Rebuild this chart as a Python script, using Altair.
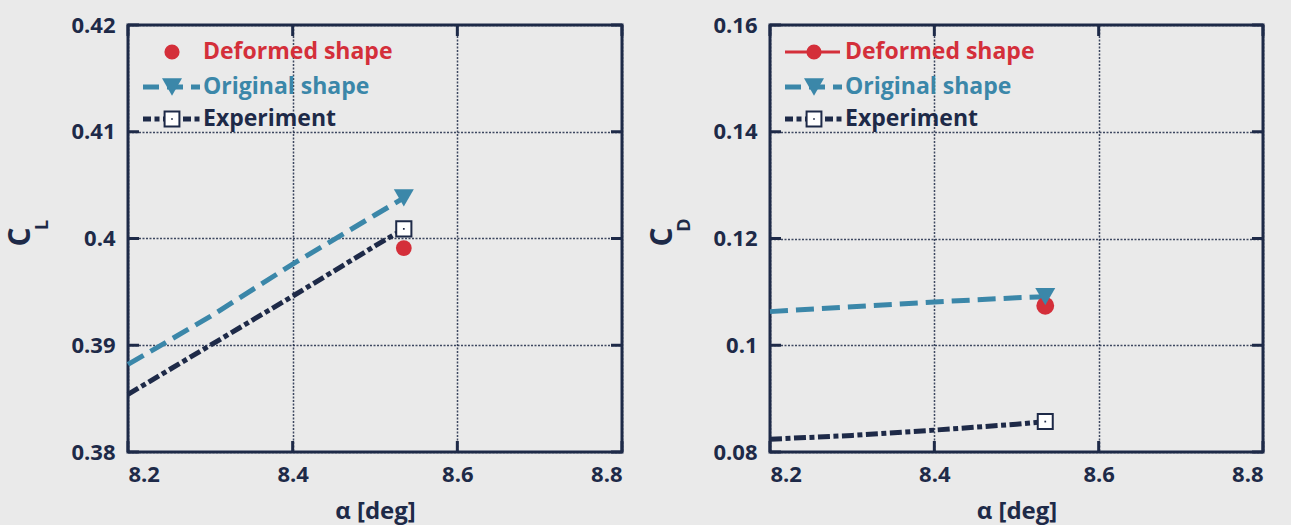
import altair as alt
import pandas as pd

NAVY = "#1e2a48"
RED = "#d42f3a"
BLUE = "#3b87a9"
BG = "#eaeaea"
FONT = "Open Sans"

series_names = ["Deformed shape", "Original shape", "Experiment"]

# ---- Lift coefficient panel ----
alpha_orig = [8.2, 8.3, 8.4, 8.5, 8.535]
cl_orig = [0.3882, 0.3927, 0.3976, 0.4022, 0.4038]
alpha_exp = [8.2, 8.3, 8.4, 8.5, 8.535]
cl_exp = [0.3854, 0.3900, 0.3946, 0.3993, 0.4009]
alpha_def = [8.535]
cl_def = [0.3991]

# ---- Drag coefficient panel ----
cd_orig = [0.1063, 0.1072, 0.1081, 0.1089, 0.1091]
cd_exp = [0.0824, 0.0831, 0.0841, 0.0852, 0.0857]
cd_def = [0.1074]

x_ticks = [8.2, 8.4, 8.6, 8.8]
cl_ticks = [0.38, 0.39, 0.40, 0.41, 0.42]
cd_ticks = [0.08, 0.10, 0.12, 0.14, 0.16]

H = 427
TICK = 11


def panel(W, xs_o, ys_o, xs_e, ys_e, xs_d, ys_d, yticks, sub, legend_line, sz):
    xscale = alt.Scale(domain=[x_ticks[0], x_ticks[-1]], nice=False, zero=False)
    yscale = alt.Scale(domain=[yticks[0], yticks[-1]], nice=False, zero=False)
    xaxis = alt.Axis(values=x_ticks, format="~g", title="α [deg]", grid=True,
                     ticks=False, domain=False, labelPadding=12, titlePadding=14)
    yaxis = alt.Axis(values=yticks, format="~g", title=None, grid=True,
                     ticks=False, domain=False, labelPadding=13)

    def X():
        return alt.X("a:Q", scale=xscale, axis=xaxis)

    def Y():
        return alt.Y("v:Q", scale=yscale, axis=yaxis)

    df_o = pd.DataFrame({"a": xs_o, "v": ys_o})
    df_e = pd.DataFrame({"a": xs_e, "v": ys_e})
    df_d = pd.DataFrame({"a": xs_d, "v": ys_d})
    df_xt = pd.DataFrame({"a": x_ticks})
    df_yt = pd.DataFrame({"v": yticks})

    layers = []
    # inner ticks
    layers.append(alt.Chart(df_xt).mark_rule(color=NAVY, strokeWidth=3).encode(
        x=X(), y=alt.value(H), y2=alt.value(H - TICK)))
    layers.append(alt.Chart(df_xt).mark_rule(color=NAVY, strokeWidth=3).encode(
        x=X(), y=alt.value(0), y2=alt.value(TICK)))
    layers.append(alt.Chart(df_yt).mark_rule(color=NAVY, strokeWidth=3).encode(
        y=Y(), x=alt.value(0), x2=alt.value(TICK)))
    layers.append(alt.Chart(df_yt).mark_rule(color=NAVY, strokeWidth=3).encode(
        y=Y(), x=alt.value(W), x2=alt.value(W - TICK)))

    # series
    layers.append(alt.Chart(df_o).mark_line(color=BLUE, strokeWidth=5, strokeDash=[18, 8],
                                            strokeCap="butt").encode(x=X(), y=Y()))
    layers.append(alt.Chart(df_e).mark_line(color=NAVY, strokeWidth=5, strokeDash=[12, 3.5, 5, 3.5],
                                            strokeCap="butt").encode(x=X(), y=Y()))
    layers.append(alt.Chart(df_d).mark_point(shape="circle", filled=True, color=RED, opacity=1,
                                             size=sz[0]).encode(x=X(), y=Y()))
    layers.append(alt.Chart(df_o.tail(1)).mark_point(shape="triangle-down", filled=True, color=BLUE,
                                                     opacity=1, size=400).encode(x=X(), y=Y()))
    layers.append(alt.Chart(df_e.tail(1)).mark_point(shape="square", filled=True, fill="white",
                                                     stroke=NAVY, strokeWidth=2, opacity=1,
                                                     size=sz[1]).encode(x=X(), y=Y()))
    layers.append(alt.Chart(df_e.tail(1)).mark_point(shape="square", filled=True, color=NAVY,
                                                     opacity=1, size=3).encode(x=X(), y=Y()))

    # legend
    ly = [27, 62, 94]
    colors = [RED, BLUE, NAVY]
    if legend_line:
        layers.append(alt.Chart(df_d).mark_rule(color=RED, strokeWidth=3).encode(
            x=alt.value(15), x2=alt.value(70), y=alt.value(ly[0])))
    layers.append(alt.Chart(df_d).mark_rule(color=BLUE, strokeWidth=5, strokeDash=[16, 8],
                                            strokeCap="butt").encode(
        x=alt.value(15), x2=alt.value(72), y=alt.value(ly[1])))
    layers.append(alt.Chart(df_d).mark_rule(color=NAVY, strokeWidth=5, strokeDash=[8, 3.5, 5, 3.5],
                                            strokeCap="butt").encode(
        x=alt.value(15), x2=alt.value(72), y=alt.value(ly[2])))
    layers.append(alt.Chart(df_d).mark_point(shape="circle", filled=True, color=RED, opacity=1,
                                             size=230).encode(x=alt.value(44), y=alt.value(ly[0])))
    layers.append(alt.Chart(df_d).mark_point(shape="triangle-down", filled=True, color=BLUE, opacity=1,
                                             size=400).encode(x=alt.value(44), y=alt.value(ly[1])))
    layers.append(alt.Chart(df_d).mark_point(shape="square", filled=True, fill="white", stroke=NAVY,
                                             strokeWidth=2, opacity=1, size=220).encode(
        x=alt.value(44), y=alt.value(ly[2])))
    layers.append(alt.Chart(df_d).mark_point(shape="square", filled=True, color=NAVY, opacity=1,
                                             size=3).encode(x=alt.value(44), y=alt.value(ly[2])))
    for i, name in enumerate(series_names):
        layers.append(alt.Chart(df_d).mark_text(text=name, align="left", baseline="middle",
                                                font=FONT, fontSize=23, fontWeight="bold",
                                                color=colors[i]).encode(
            x=alt.value(75), y=alt.value(ly[i])))

    # y title with subscript
    layers.append(alt.Chart(df_d).mark_text(text="C", angle=270, align="center", baseline="middle",
                                            font=FONT, fontSize=30, fontWeight="bold",
                                            color=NAVY).encode(x=alt.value(-107), y=alt.value(212)))
    layers.append(alt.Chart(df_d).mark_text(text=sub, angle=270, align="center", baseline="middle",
                                            font=FONT, fontSize=18, fontWeight="bold",
                                            color=NAVY).encode(x=alt.value(-85), y=alt.value(200)))

    return alt.layer(*layers).properties(width=W, height=H)


left = panel(494, alpha_orig, cl_orig, alpha_exp, cl_exp, alpha_def, cl_def, cl_ticks, "L", False, [250, 230])
right = panel(493, alpha_orig, cd_orig, alpha_exp, cd_exp, alpha_def, cd_def, cd_ticks, "D", True, [320, 225])

chart = alt.hconcat(left, right, spacing=148, bounds="flush").properties(
    padding={"left": 4, "top": 12, "right": 25, "bottom": 0},
    background=BG,
).configure_view(
    stroke=NAVY, strokeWidth=3
).configure_axis(
    labelFont=FONT, labelFontSize=22, labelFontWeight="bold", labelColor=NAVY,
    titleFont=FONT, titleFontSize=24, titleFontWeight="bold", titleColor=NAVY,
    gridColor=NAVY, gridDash=[2, 1.5], gridWidth=1.5, gridOpacity=0.85,
)

chart.save("out.html", embed_options={"renderer": "svg", "actions": False})
